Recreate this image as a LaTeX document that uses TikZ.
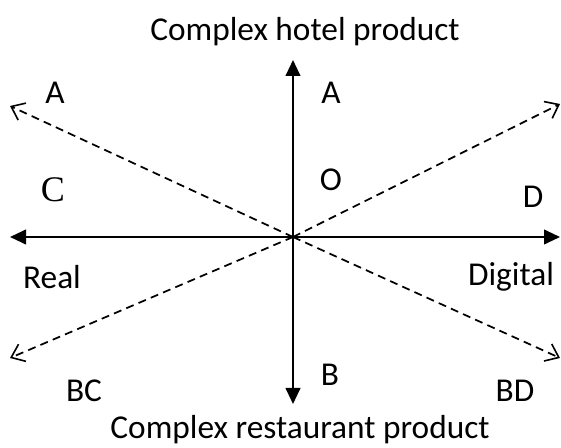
\documentclass[tikz,border=0pt]{standalone}
\usepackage{fontspec}
\setmainfont{Carlito}
\newfontfamily\serifC{Liberation Serif}
\usetikzlibrary{arrows.meta}
\begin{document}
\begin{tikzpicture}[x=0.75pt,y=-0.75pt,
  axis/.style={line width=1.5pt,-{Triangle[length=12pt,width=11pt]}},
  diag/.style={line width=1.3pt,dash pattern=on 6pt off 4pt,
     -{Straight Barb[length=9pt,width=14pt,line width=1.2pt]}},
  lbl/.style={font=\fontsize{25}{30}\selectfont,inner sep=0pt}]
\useasboundingbox (0,0) rectangle (561,448);
\coordinate (O) at (293,237);
\coordinate (top) at (293,60);
\coordinate (bot) at (293,404);
\coordinate (left) at (10,237);
\coordinate (right) at (560,237);
\coordinate (ul) at (10,106);
\coordinate (ur) at (560,104);
\coordinate (ll) at (10,358);
\coordinate (lr) at (560,358);
\draw[axis] (O) -- (top);
\draw[axis] (O) -- (bot);
\draw[axis] (O) -- (left);
\draw[axis] (O) -- (right);
\draw[diag] (O) -- (ul);
\draw[diag] (O) -- (lr);
\draw[diag] (O) -- (ll);
\draw[diag] (O) -- (ur);
\node[lbl] (t1) at (305,32) {Complex hotel product};
\node[lbl] (t2) at (300,430) {Complex restaurant product};
\node[lbl] (a1) at (55,93) {A};
\node[lbl] (a2) at (331,93) {A};
\node[lbl,font=\serifC\fontsize{27}{32}\selectfont] (c) at (53,190) {C};
\node[lbl] (o) at (331,180) {O};
\node[lbl] (d) at (533,197) {D};
\node[lbl] (real) at (52,277) {Real};
\node[lbl] (dig) at (511,277) {Digital};
\node[lbl] (bc) at (84,391) {BC};
\node[lbl] (b) at (330,375) {B};
\node[lbl] (bd) at (515,391) {BD};
\end{tikzpicture}
\end{document}
